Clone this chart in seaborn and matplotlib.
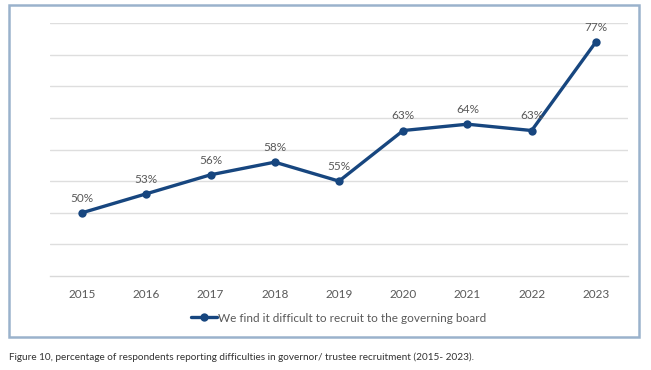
import matplotlib
matplotlib.use("Agg")
import matplotlib.pyplot as plt
import seaborn as sns
import pandas as pd
from matplotlib.patches import Rectangle
from matplotlib.lines import Line2D

years = ["2015", "2016", "2017", "2018", "2019", "2020", "2021", "2022", "2023"]
values = [50, 53, 56, 58, 55, 63, 64, 63, 77]
labels = ["50%", "53%", "56%", "58%", "55%", "63%", "64%", "63%", "77%"]
series_name = "We find it difficult to recruit to the governing board"
caption = ("Figure 10, percentage of respondents reporting difficulties in governor/ "
           "trustee recruitment (2015- 2023).")

sns.set_theme(style="white")
plt.rcParams["font.family"] = ["Lato", "DejaVu Sans"]

W, H = 651, 370
fig = plt.figure(figsize=(W / 100, H / 100), dpi=100)
fig.patch.set_facecolor("white")

# outer border box
fig.patches.append(Rectangle((9 / W, 1 - 337 / H), (639 - 9) / W, (337 - 5) / H,
                             transform=fig.transFigure, fill=False,
                             edgecolor="#9ab2cc", linewidth=1.8))

ax = fig.add_axes([50 / W, 1 - 276 / H, (628 - 50) / W, (276 - 23) / H])
df = pd.DataFrame({"year": years, "value": values})
color = "#17467f"
sns.lineplot(data=df, x="year", y="value", ax=ax, color=color, linewidth=2.4,
             marker="o", markersize=6, markeredgewidth=0, sort=False)

ax.set_ylim(40, 80)
ax.set_xlim(-0.5, len(years) - 0.5)
ax.set_yticks([45, 50, 55, 60, 65, 70, 75, 80])
ax.yaxis.grid(True, color="#dedede", linewidth=1)
ax.set_yticklabels([])
ax.tick_params(axis="y", length=0)
for s in ["top", "right", "left"]:
    ax.spines[s].set_visible(False)
ax.spines["bottom"].set_color("#d9d9d9")
ax.spines["bottom"].set_linewidth(1)
ax.set_xlabel("")
ax.set_ylabel("")
ax.set_xticks(range(len(years)))
ax.set_xticklabels(years, color="#595959", fontsize=8.5)
ax.tick_params(axis="x", which="major", length=0, pad=9)
ax.set_xticks([i - 0.5 for i in range(len(years) + 1)], minor=True)
ax.tick_params(axis="x", which="minor", length=4, color="#d9d9d9", width=1)

for i, (v, lab) in enumerate(zip(values, labels)):
    ax.annotate(lab, (i, v), xytext=(0, 6.5), textcoords="offset points",
                ha="center", va="bottom", color="#595959", fontsize=8.5)

handle = Line2D([], [], color=color, linewidth=2.4, marker="o", markersize=6,
                markeredgewidth=0)
fig.legend([handle], [series_name], loc="center", bbox_to_anchor=(339 / W, 1 - 318 / H),
           frameon=False, fontsize=8.5, handlelength=2.2, handletextpad=0.1,
           labelcolor="#595959")

fig.text(9 / W, 1 - 357 / H, caption, ha="left", va="center", fontsize=7.2,
         color="#333333")

fig.savefig("out.png", dpi=100, facecolor="white")
